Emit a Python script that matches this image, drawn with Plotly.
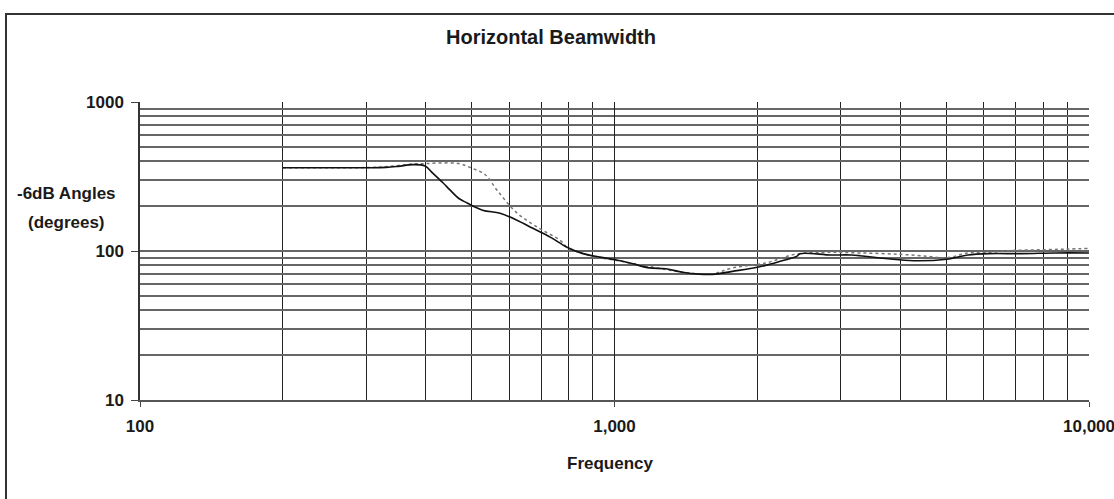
import plotly.graph_objects as go

# Frequency (Hz) and -6dB beamwidth (degrees)
freq_solid = [200, 250, 300, 330, 350, 376, 399, 414, 435, 450, 470, 489, 527, 574, 623, 673,
              732, 794, 859, 932, 1010, 1093, 1185, 1284, 1391, 1508, 1634, 1771, 1920, 2080,
              2254, 2420, 2461, 2861, 3155, 3723, 4264, 5012, 5556, 6140, 7225, 8500, 10000]
angle_solid = [362, 362, 362, 364, 370, 380, 372, 333, 287, 257, 225, 210, 188, 179, 161, 142,
               124, 106, 96, 91, 87, 82, 77, 76, 72, 70, 70, 73, 76, 80,
               86, 92, 96, 94, 94, 89, 86, 88, 94, 96, 96, 97, 97]

freq_dot = [200, 300, 330, 380, 400, 430, 470, 500, 534, 565, 623, 694, 768, 794, 900, 1000,
            1200, 1400, 1600, 1771, 2080, 2400, 2800, 3300, 4000, 4600, 5012, 5556, 6140,
            7000, 8000, 9000, 10000]
angle_dot = [362, 363, 368, 385, 386, 390, 386, 360, 325, 257, 180, 142, 118, 106, 92, 87,
             78, 72, 70, 77, 83, 95, 98, 97, 95, 92, 90, 97, 98, 101, 102, 103, 104]

x_tickvals = [100, 1000, 10000]
x_ticktext = ["100", "1,000", "10,000"]
y_tickvals = [10, 100, 1000]
y_ticktext = ["10", "100", "1000"]

font = "Liberation Sans, Arial, sans-serif"
TXT = "#1a1a1a"

W, H = 1114, 499
L, R, T, B = 140, 25, 102, 99
pw, ph = W - L - R, H - T - B


def px_to_paper(px, py):
    return (px - L) / pw, (H - B - py) / ph


fig = go.Figure()
fig.add_trace(go.Scatter(x=freq_dot, y=angle_dot, mode="lines",
                         line=dict(color="#777777", width=1.5, dash="dot", shape="spline"),
                         showlegend=False))
fig.add_trace(go.Scatter(x=freq_solid, y=angle_solid, mode="lines",
                         line=dict(color="#111111", width=1.6, shape="spline"),
                         showlegend=False))

fig.update_layout(
    width=W, height=H,
    margin=dict(l=L, r=R, t=T, b=B, autoexpand=False),
    paper_bgcolor="white", plot_bgcolor="white",
    font=dict(family=font, size=17, color=TXT),
    title=dict(text="<b>Horizontal Beamwidth</b>", x=551 / W, xanchor="center",
               y=1 - 37 / H, yanchor="middle",
               font=dict(size=20, family=font, color=TXT)),
    xaxis=dict(type="log", range=[2, 4], tickvals=x_tickvals, ticktext=x_ticktext,
               showgrid=True, gridcolor="#222222", gridwidth=1,
               minor=dict(dtick="D1", showgrid=True, gridcolor="#222222", gridwidth=1,
                          ticks=""),
               ticks="outside", ticklen=5, tickcolor="#444444",
               showline=True, linecolor="#555555", linewidth=1.5,
               zeroline=False, tickfont=dict(size=17, family=font, weight="bold"),
               ticklabelstandoff=5, ticklabeloverflow="allow", automargin=False),
    yaxis=dict(type="log", range=[1, 3], tickvals=y_tickvals, ticktext=y_ticktext,
               showgrid=True, gridcolor="#666666", gridwidth=1.5,
               minor=dict(dtick="D1", showgrid=True, gridcolor="#666666", gridwidth=1.5,
                          ticks=""),
               ticks="outside", ticklen=7, tickcolor="#444444",
               showline=True, linecolor="#333333", linewidth=1.5,
               zeroline=False, tickfont=dict(size=17, family=font, weight="bold"),
               ticklabelstandoff=4, automargin=False),
)

labels = [("-6dB Angles", 66, 193), ("(degrees)", 66, 222), ("Frequency", 610, 463)]
for text, px, py in labels:
    ax, ay = px_to_paper(px, py)
    fig.add_annotation(text="<b>" + text + "</b>", x=ax, y=ay, xref="paper", yref="paper",
                       showarrow=False, xanchor="center", yanchor="middle",
                       font=dict(size=17, family=font, color=TXT))

# outer frame of the chart area
x0, y1 = px_to_paper(6, 14)
x1, y0 = px_to_paper(1140, 530)
fig.add_shape(type="rect", xref="paper", yref="paper", x0=x0, x1=x1, y0=y0, y1=y1,
              line=dict(color="#333333", width=2), fillcolor="rgba(0,0,0,0)", layer="below")

fig.write_html("out.html", config={"displayModeBar": False},
               post_script="document.body.style.margin='0';document.body.style.overflow='hidden';")
